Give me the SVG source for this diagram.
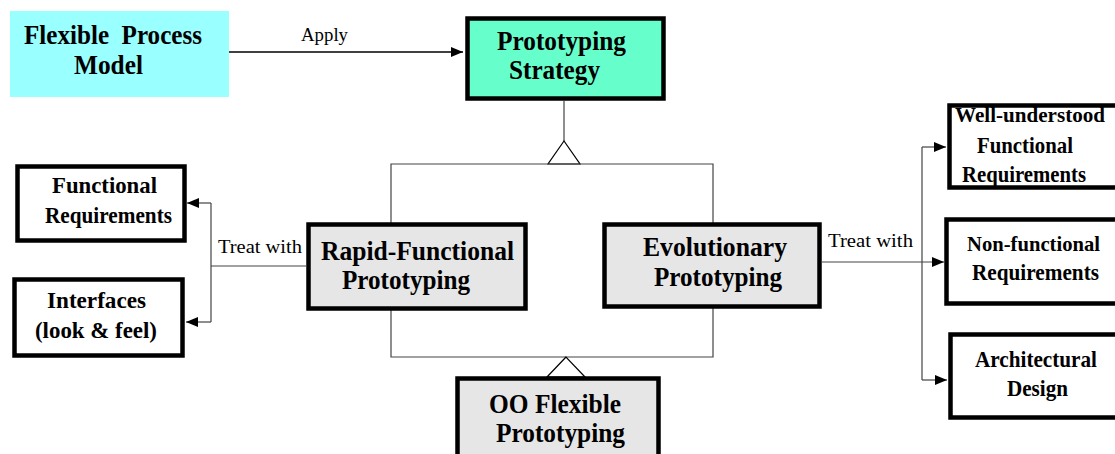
<svg xmlns="http://www.w3.org/2000/svg" width="1115" height="454" viewBox="0 0 1115 454">
<defs>
<style>
.box{stroke:#000;stroke-width:4.5}
.w{fill:#fff}
.g{fill:#e6e6e6}
.open{fill:none;stroke:#000;stroke-width:4.5}
.t{font-family:"Liberation Serif","Times New Roman",serif;font-weight:bold;font-size:26.5px;fill:#000}
.s{font-family:"Liberation Serif","Times New Roman",serif;font-weight:bold;font-size:23.5px;fill:#000}
.n{font-size:22px}
.l{font-family:"Liberation Serif","Times New Roman",serif;font-size:19.5px;fill:#000}
.c{fill:none;stroke:#444;stroke-width:1.2}
</style>
<marker id="arr" viewBox="0 0 12 10" refX="12" refY="5" markerWidth="12" markerHeight="10" markerUnits="userSpaceOnUse" orient="auto">
<path d="M0,0 L12,5 L0,10 Z" fill="#000"/>
</marker>
</defs>
<rect width="1115" height="454" fill="#fff"/>

<g id="connectors">
<line x1="229" y1="52" x2="463" y2="52" stroke="#000" stroke-width="1.3" marker-end="url(#arr)"/>
<text class="l" x="301" y="41" textLength="47" lengthAdjust="spacingAndGlyphs">Apply</text>
<line class="c" x1="564" y1="101" x2="564" y2="141"/>
<polygon points="564,141 548,164 580,164" fill="#fff" stroke="#000" stroke-width="1.2"/>
<polyline class="c" points="391,224 391,164 713,164 713,224"/>
<polyline class="c" points="391,309 391,357 713,357 713,307"/>
<polygon points="566,357 547,377 585,377" fill="#fff" stroke="#000" stroke-width="1.2"/>
<line class="c" x1="306" y1="266" x2="211" y2="266"/>
<polyline class="c" points="211,203 211,322"/>
<line class="c" x1="211" y1="203" x2="187" y2="203" marker-end="url(#arr)"/>
<line class="c" x1="211" y1="322" x2="186" y2="322" marker-end="url(#arr)"/>
<text class="l" x="218" y="253" textLength="84" lengthAdjust="spacingAndGlyphs">Treat with</text>
<line class="c" x1="822" y1="262" x2="944" y2="262" marker-end="url(#arr)"/>
<polyline class="c" points="922,147 922,380"/>
<line class="c" x1="922" y1="147" x2="946" y2="147" marker-end="url(#arr)"/>
<line class="c" x1="922" y1="380" x2="947" y2="380" marker-end="url(#arr)"/>
<text class="l" x="828" y="247" textLength="85" lengthAdjust="spacingAndGlyphs">Treat with</text>
</g>

<g id="flexible-process-model">
<rect x="10" y="11" width="219" height="86" fill="#99ffff"/>
<text class="t" x="24" y="44" textLength="178" lengthAdjust="spacingAndGlyphs" xml:space="preserve">Flexible  Process</text>
<text class="t" x="74" y="74" textLength="69" lengthAdjust="spacingAndGlyphs">Model</text>
</g>

<g id="prototyping-strategy">
<rect class="box" x="467.5" y="18.5" width="196" height="80" fill="#66ffcc"/>
<text class="t" x="497" y="50" textLength="129" lengthAdjust="spacingAndGlyphs">Prototyping</text>
<text class="t" x="509" y="79" textLength="91" lengthAdjust="spacingAndGlyphs">Strategy</text>
</g>

<g id="rapid-functional">
<rect class="box g" x="308.5" y="224.5" width="217" height="84"/>
<text class="t" x="321" y="260" textLength="193" lengthAdjust="spacingAndGlyphs">Rapid-Functional</text>
<text class="t" x="342" y="289" textLength="128" lengthAdjust="spacingAndGlyphs">Prototyping</text>
</g>

<g id="evolutionary">
<rect class="box g" x="604.5" y="224.5" width="215" height="82"/>
<text class="t" x="643" y="256" textLength="144" lengthAdjust="spacingAndGlyphs">Evolutionary</text>
<text class="t" x="654" y="286" textLength="128" lengthAdjust="spacingAndGlyphs">Prototyping</text>
</g>

<g id="oo-flexible">
<rect class="box g" x="457.5" y="378.5" width="201" height="100"/>
<text class="t" x="489" y="413" textLength="132" lengthAdjust="spacingAndGlyphs">OO Flexible</text>
<text class="t" x="496" y="442" textLength="129" lengthAdjust="spacingAndGlyphs">Prototyping</text>
</g>

<g id="functional-requirements">
<rect class="box w" x="17.5" y="166.5" width="167" height="74"/>
<text class="s" x="52" y="193" textLength="105" lengthAdjust="spacingAndGlyphs">Functional</text>
<text class="s" x="45" y="223" textLength="127" lengthAdjust="spacingAndGlyphs">Requirements</text>
</g>

<g id="interfaces">
<rect class="box w" x="14.5" y="279.5" width="168" height="76"/>
<text class="s" x="47" y="308" textLength="99" lengthAdjust="spacingAndGlyphs">Interfaces</text>
<text class="s" x="35" y="338" textLength="122" lengthAdjust="spacingAndGlyphs">(look &amp; feel)</text>
</g>

<g id="well-understood">
<rect x="949" y="105" width="166" height="83" fill="#fff"/>
<path d="M1115,105.5 H949.5 V187.5 H1115" class="open"/>
<text class="s n" x="955" y="122" textLength="150" lengthAdjust="spacingAndGlyphs">Well-understood</text>
<text class="s" x="977" y="153" textLength="96" lengthAdjust="spacingAndGlyphs">Functional</text>
<text class="s" x="962" y="182" textLength="124" lengthAdjust="spacingAndGlyphs">Requirements</text>
</g>

<g id="non-functional">
<rect x="946" y="219" width="169" height="85" fill="#fff"/>
<path d="M1115,219.5 H946.5 V303.5 H1115" class="open"/>
<text class="s n" x="967" y="251" textLength="133" lengthAdjust="spacingAndGlyphs">Non-functional</text>
<text class="s" x="972" y="280" textLength="127" lengthAdjust="spacingAndGlyphs">Requirements</text>
</g>

<g id="architectural-design">
<rect x="950" y="334" width="165" height="84" fill="#fff"/>
<path d="M1115,334.5 H950.5 V417.5 H1115" class="open"/>
<text class="s" x="975" y="367" textLength="122" lengthAdjust="spacingAndGlyphs">Architectural</text>
<text class="s" x="1007" y="396" textLength="61" lengthAdjust="spacingAndGlyphs">Design</text>
</g>
</svg>
